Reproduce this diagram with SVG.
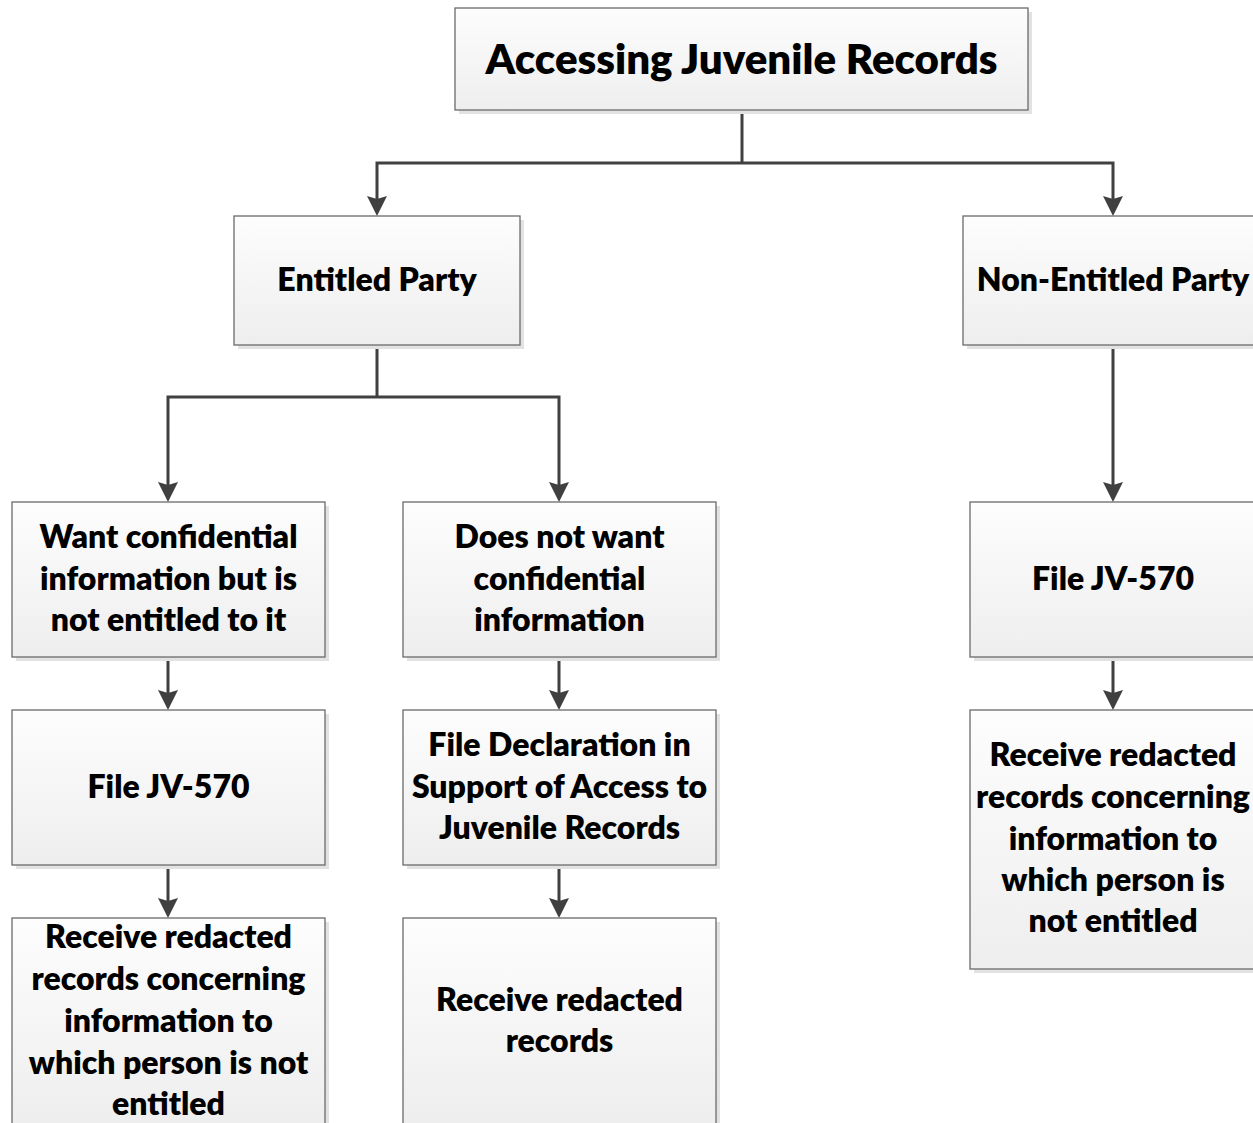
<svg xmlns="http://www.w3.org/2000/svg" width="1253" height="1123" viewBox="0 0 1253 1123">
<defs>
<linearGradient id="g" x1="0" y1="0" x2="0" y2="1">
<stop offset="0" stop-color="#fdfdfd"/>
<stop offset="1" stop-color="#eeeeee"/>
</linearGradient>
<marker id="arr" viewBox="0 0 20 20" refX="14" refY="10" markerWidth="20" markerHeight="20" markerUnits="userSpaceOnUse" orient="auto">
<path d="M0,0 L20,10 L0,20 L3,10 z" fill="#404040"/>
</marker>
<style>
.sh{fill:#e2e2e2}
.bx{fill:url(#g);stroke:#6a6a6a;stroke-width:1.3}
.t{font-family:Lato,"Open Sans","Liberation Sans",sans-serif;font-weight:800;font-size:32px;fill:#000;text-anchor:middle}
.tt{font-size:42px}
.c{fill:none;stroke:#404040;stroke-width:3}
</style>
</defs>
<rect width="1253" height="1123" fill="#fff"/>
<g id="connectors">
<path class="c" d="M742,110 V163"/>
<path class="c" d="M742,163 H377 V210" marker-end="url(#arr)"/>
<path class="c" d="M742,163 H1113 V210" marker-end="url(#arr)"/>
<path class="c" d="M377,345 V397"/>
<path class="c" d="M377,397 H168 V496" marker-end="url(#arr)"/>
<path class="c" d="M377,397 H559 V496" marker-end="url(#arr)"/>
<path class="c" d="M1113,345 V496" marker-end="url(#arr)"/>
<path class="c" d="M168,657 V704" marker-end="url(#arr)"/>
<path class="c" d="M168,865 V912" marker-end="url(#arr)"/>
<path class="c" d="M559,657 V704" marker-end="url(#arr)"/>
<path class="c" d="M559,865 V912" marker-end="url(#arr)"/>
<path class="c" d="M1113,657 V704" marker-end="url(#arr)"/>
</g>
<g id="n-title">
<rect class="sh" x="459" y="12" width="573" height="102"/>
<rect class="bx" x="455" y="8" width="573" height="102"/>
<text class="t tt" x="741.5" y="74">Accessing Juvenile Records</text>
</g>
<g id="n-entitled">
<rect class="sh" x="238" y="220" width="286" height="129"/>
<rect class="bx" x="234" y="216" width="286" height="129"/>
<text class="t" x="377" y="291">Entitled Party</text>
</g>
<g id="n-nonentitled">
<rect class="sh" x="967" y="220" width="300" height="129"/>
<rect class="bx" x="963" y="216" width="300" height="129"/>
<text class="t" x="1113" y="291">Non-Entitled Party</text>
</g>
<g id="n-want">
<rect class="sh" x="16" y="506" width="313" height="155"/>
<rect class="bx" x="12" y="502" width="313" height="155"/>
<text class="t" x="168.5" y="548">Want confidential</text>
<text class="t" x="168.5" y="590">information but is</text>
<text class="t" x="168.5" y="631">not entitled to it</text>
</g>
<g id="n-notwant">
<rect class="sh" x="407" y="506" width="313" height="155"/>
<rect class="bx" x="403" y="502" width="313" height="155"/>
<text class="t" x="559.5" y="548">Does not want</text>
<text class="t" x="559.5" y="590">confidential</text>
<text class="t" x="559.5" y="631">information</text>
</g>
<g id="n-file-left">
<rect class="sh" x="16" y="714" width="313" height="155"/>
<rect class="bx" x="12" y="710" width="313" height="155"/>
<text class="t" x="168.5" y="798">File JV-570</text>
</g>
<g id="n-declaration">
<rect class="sh" x="407" y="714" width="313" height="155"/>
<rect class="bx" x="403" y="710" width="313" height="155"/>
<text class="t" x="559.5" y="756">File Declaration in</text>
<text class="t" x="559.5" y="798">Support of Access to</text>
<text class="t" x="559.5" y="839">Juvenile Records</text>
</g>
<g id="n-receive-left">
<rect class="sh" x="16" y="922" width="313" height="206"/>
<rect class="bx" x="12" y="918" width="313" height="206"/>
<text class="t" x="168.5" y="948">Receive redacted</text>
<text class="t" x="168.5" y="990">records concerning</text>
<text class="t" x="168.5" y="1032">information to</text>
<text class="t" x="168.5" y="1074">which person is not</text>
<text class="t" x="168.5" y="1115">entitled</text>
</g>
<g id="n-receive-mid">
<rect class="sh" x="407" y="922" width="313" height="206"/>
<rect class="bx" x="403" y="918" width="313" height="206"/>
<text class="t" x="559.5" y="1011">Receive redacted</text>
<text class="t" x="559.5" y="1052">records</text>
</g>
<g id="n-file-right">
<rect class="sh" x="974" y="506" width="286" height="155"/>
<rect class="bx" x="970" y="502" width="286" height="155"/>
<text class="t" x="1113" y="590">File JV-570</text>
</g>
<g id="n-receive-right">
<rect class="sh" x="974" y="714" width="286" height="259"/>
<rect class="bx" x="970" y="710" width="286" height="259"/>
<text class="t" x="1113" y="766">Receive redacted</text>
<text class="t" x="1113" y="808">records concerning</text>
<text class="t" x="1113" y="850">information to</text>
<text class="t" x="1113" y="891">which person is</text>
<text class="t" x="1113" y="932">not entitled</text>
</g>
</svg>
